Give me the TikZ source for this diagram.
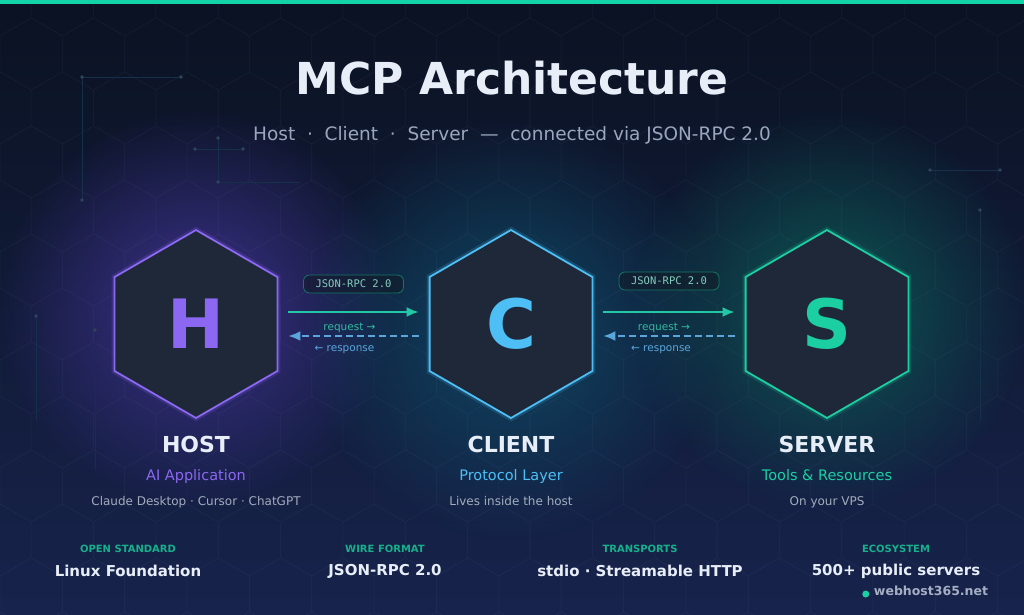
\documentclass[tikz,border=0pt]{standalone}
\usepackage{fontspec}
\setmainfont{DejaVu Sans}
\setmonofont{DejaVu Sans Mono}
\usetikzlibrary{arrows.meta,positioning,calc,shapes.geometric,fadings}
\definecolor{bgtop}{HTML}{0B1222}
\definecolor{bgbot}{HTML}{17234C}
\definecolor{gridc}{HTML}{8FB4E0}
\definecolor{wire}{HTML}{17304A}
\definecolor{bar}{HTML}{14D3A8}
\definecolor{hexfill}{HTML}{1E2838}
\definecolor{hostc}{HTML}{8B67F2}
\definecolor{clientc}{HTML}{4DBFF5}
\definecolor{serverc}{HTML}{1CCFA3}
\definecolor{req}{HTML}{22C7A6}
\definecolor{resp}{HTML}{5AA6DC}
\definecolor{ink}{HTML}{E8EEF7}
\definecolor{muted}{HTML}{9AA6BD}
\definecolor{faint}{HTML}{A3ACBD}
\definecolor{glowp}{HTML}{3F3290}
\definecolor{glowb}{HTML}{0E4A66}
\definecolor{glowt}{HTML}{0C5A55}
\tikzfading[name=glowfade, inner color=transparent!5, outer color=transparent!100]

\begin{document}
\begin{tikzpicture}[x=1pt,y=-1pt,
  hexnode/.style={regular polygon,regular polygon sides=6,shape border rotate=30,
                  minimum size=188pt,inner sep=0pt,fill=hexfill,line width=1.8pt,
                  font=\fontsize{68}{68}\selectfont\bfseries},
  role/.style={font=\fontsize{22}{22}\selectfont\bfseries,text=ink,inner sep=0pt,anchor=base},
  kind/.style={font=\fontsize{14.5}{15}\selectfont,inner sep=0pt,anchor=base},
  eg/.style={font=\fontsize{12}{12}\selectfont,text=faint,inner sep=0pt,anchor=base},
  wirebox/.style={draw=req!60!black,fill=hexfill!60!black,fill opacity=.5,text opacity=1,
                  rounded corners=6pt,line width=0.8pt,
                  font=\ttfamily\fontsize{10.5}{10}\selectfont,text=req!55!white!80!gray,
                  minimum width=100pt,minimum height=18pt,inner sep=0pt},
  reqarr/.style={-{Latex[length=12pt,width=10pt]},line width=2.2pt,draw=req},
  resparr/.style={-{Latex[length=12pt,width=10pt]},line width=2.2pt,draw=resp,
                  dash pattern=on 7pt off 4pt},
  msg/.style={font=\fontsize{10.5}{10}\selectfont,inner sep=0pt},
  stathead/.style={font=\fontsize{10}{10}\selectfont\bfseries,text=serverc!85!black,inner sep=0pt},
  statval/.style={font=\fontsize{15}{15}\selectfont\bfseries,text=ink,inner sep=0pt}]

  \useasboundingbox (0,0) rectangle (1024,614);
  \shade[top color=bgtop,bottom color=bgbot] (0,0) rectangle (1024,614);

  % glows
  \fill[glowp,path fading=glowfade] (196,310) circle (200);
  \fill[glowb,path fading=glowfade] (511,330) circle (210);
  \fill[glowt,path fading=glowfade] (830,310) circle (200);

  % hex grid
  \begin{scope}[transparency group,opacity=.05]
  \foreach \r in {0,...,12}{
    \foreach \c in {0,...,17}{
      \pgfmathsetmacro\xx{\c*62.35+mod(\r,2)*31.18}
      \pgfmathsetmacro\yy{\r*54}
      \draw[gridc,line width=0.6pt] (\xx,\yy-36) -- ++(31.18,18) -- ++(0,36)
        -- ++(-31.18,18) -- ++(-31.18,-18) -- ++(0,-36) -- cycle;
    }
  }
  \end{scope}

  % circuit traces
  \draw[wire,line width=0.6pt] (82,200) -- (82,77) -- (181,77);
  \draw[wire,line width=0.6pt] (195,149) -- (243,149) (218,138) -- (218,182) -- (300,182);
  \draw[wire,line width=0.6pt] (36,316) -- (36,420) (95,330) -- (95,470);
  \draw[wire,line width=0.6pt] (980,210) -- (980,420) (930,170) -- (1000,170);
  \foreach \p in {(82,77),(181,77),(82,200),(195,149),(243,149),(218,138),(218,182),
                  (36,316),(95,330),(980,210),(930,170),(1000,170)}
    \fill[wire!90!white] \p circle (1.8);

  \fill[bar] (0,0) rectangle (1024,4);

  % title
  \node[font=\fontsize{44}{44}\selectfont\bfseries,text=ink] (title) at (512,78) {MCP Architecture};
  \node[font=\fontsize{18.5}{18}\selectfont,text=muted] (subtitle) at (512,135)
    {Host\ \ ·\ \ Client\ \ ·\ \ Server\ \ —\ \ connected via JSON-RPC 2.0};

  % the three parts
  \node[hexnode,draw=hostc,text=hostc,preaction={draw=hostc,line width=6pt,opacity=.18}]
    (host) at (196,324) {H};
  \node[hexnode,draw=clientc,text=clientc,preaction={draw=clientc,line width=6pt,opacity=.18}]
    (client) at (511,324) {C};
  \node[hexnode,draw=serverc,text=serverc,preaction={draw=serverc,line width=6pt,opacity=.18}]
    (server) at (827,324) {S};

  \node[role] (hostname) at (196,452) {HOST};
  \node[kind,text=hostc] (hostkind) at (196,480) {AI Application};
  \node[eg] (hosteg) at (196,505) {Claude Desktop · Cursor · ChatGPT};

  \node[role] (clientname) at (511,452) {CLIENT};
  \node[kind,text=clientc] (clientkind) at (511,480) {Protocol Layer};
  \node[eg] (clienteg) at (511,505) {Lives inside the host};

  \node[role] (servername) at (827,452) {SERVER};
  \node[kind,text=serverc] (serverkind) at (827,480) {Tools \& Resources};
  \node[eg] (servereg) at (827,505) {On your VPS};

  % messages
  \draw[reqarr] ([xshift=10pt,yshift=12pt]host.east) -- ([xshift=-10pt,yshift=12pt]client.west);
  \draw[resparr] ([xshift=-10pt,yshift=-12pt]client.west) -- ([xshift=10pt,yshift=-12pt]host.east);
  \node[wirebox] (rpc1) at ($(host.east)!.5!(client.west)+(0,-40)$) {JSON-RPC 2.0};
  \node[msg,text=req!80!gray] (req1) at ($(host.east)!.5!(client.west)+(-4,4)$) {request →};
  \node[msg,text=resp] (resp1) at ($(host.east)!.5!(client.west)+(-9,26)$) {← response};

  \draw[reqarr] ([xshift=10pt,yshift=12pt]client.east) -- ([xshift=-10pt,yshift=12pt]server.west);
  \draw[resparr] ([xshift=-10pt,yshift=-12pt]server.west) -- ([xshift=10pt,yshift=-12pt]client.east);
  \node[wirebox] (rpc2) at ($(client.east)!.5!(server.west)+(0,-43)$) {JSON-RPC 2.0};
  \node[msg,text=req!80!gray] (req2) at ($(client.east)!.5!(server.west)+(-5,4)$) {request →};
  \node[msg,text=resp] (resp2) at ($(client.east)!.5!(server.west)+(-8,26)$) {← response};

  % facts
  \node[stathead] (h1) at (128,549) {OPEN STANDARD};
  \node[statval]  (v1) at (128,571) {Linux Foundation};
  \node[stathead] (h2) at (385,549) {WIRE FORMAT};
  \node[statval]  (v2) at (385,571) {JSON-RPC 2.0};
  \node[stathead] (h3) at (640,549) {TRANSPORTS};
  \node[statval]  (v3) at (640,571) {stdio · Streamable HTTP};
  \node[stathead] (h4) at (896,549) {ECOSYSTEM};
  \node[statval]  (v4) at (896,571) {500+ public servers};

  \node[font=\fontsize{12.5}{13}\selectfont\bfseries,text=muted!90!white,inner sep=0pt]
    (site) at (931,591) {webhost365.net};
  \fill[serverc] ([xshift=-8pt,yshift=-3pt]site.west) circle (3.5);
\end{tikzpicture}
\end{document}
